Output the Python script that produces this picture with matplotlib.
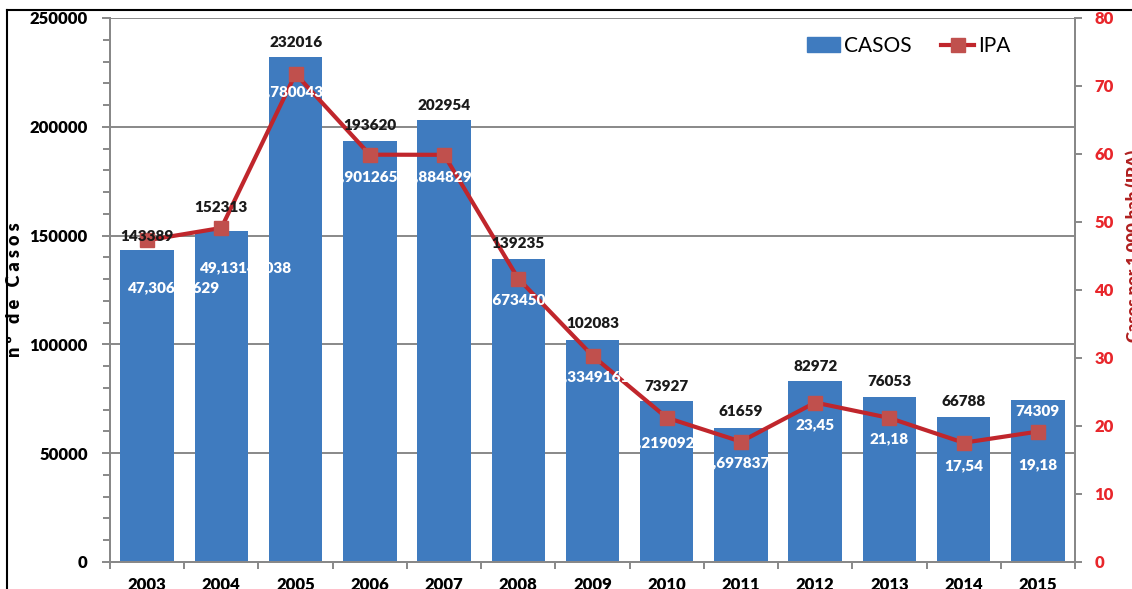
import matplotlib
matplotlib.use("Agg")
import matplotlib.pyplot as plt
import numpy as np
from matplotlib.lines import Line2D
from matplotlib.patches import Patch

plt.rcParams['font.family'] = ['Lato', 'DejaVu Sans']

# datos
anos = ['2003', '2004', '2005', '2006', '2007', '2008', '2009',
        '2010', '2011', '2012', '2013', '2014', '2015']
casos = [143389, 152313, 232016, 193620, 202954, 139235, 102083,
         73927, 61659, 82972, 76053, 66788, 74309]
ipa = [47.31, 49.13, 71.78, 59.90, 59.88, 41.67, 30.33,
       21.22, 17.70, 23.45, 21.18, 17.54, 19.18]
ipa_txt = ['47,30662629', '49,13140038', '71,78004328', '59,90126512',
           '59,88482916', '41,67345012', '30,33491617', '21,21909234',
           '17,69783715', '23,45', '21,18', '17,54', '19,18']

# desplazamientos de etiquetas (px)
casos_dy = [13, 23, 15, 15, 15, 16, 16, 15, 16, 15, 15, 15, -11]
ipa_dx = [27, 25, 0, 0, 0, 0, 0, 0, 0, 0, 0, 0, 0]
ipa_dy = [47, 40, 18, 22, 22, 21, 21, 25, 21, 22, 21, 23, 33]

azul = '#3F7BBF'
rojo = '#C0262C'
gris = '#888888'
px = 0.72  # px -> pt a dpi 100

fig = plt.figure(figsize=(11.32, 5.89), dpi=100)
ax = fig.add_axes([110/1132, 27/589, 965/1132, 544/589])
x = np.arange(len(anos))

ax.bar(x, casos, width=0.72, color=azul, zorder=2)
ax.set_xlim(-0.5, len(anos) - 0.5)
ax.set_ylim(0, 250000)
ax.set_yticks(np.arange(0, 250001, 50000))
ax.set_yticks(np.arange(0, 250001, 10000), minor=True)
ax.yaxis.grid(True, color=gris, lw=1.4, zorder=0)
ax.set_xticks(x)
ax.set_xticklabels(anos, fontsize=12, fontweight='heavy')
ax.set_xticks(np.arange(-0.5, len(anos), 1), minor=True)
ax.tick_params(axis='x', which='major', length=0, pad=11)
ax.tick_params(axis='x', which='minor', length=5, color=gris, width=1.4)
ax.tick_params(axis='y', which='major', length=6, color=gris, width=1.4,
               labelsize=12, pad=10)
ax.tick_params(axis='y', which='minor', length=5, color=gris, width=1.4)
for t in ax.get_yticklabels():
    t.set_fontweight('heavy')
for s in ['left', 'bottom', 'right']:
    ax.spines[s].set_color(gris)
    ax.spines[s].set_linewidth(1.4)
ax.spines['top'].set_visible(False)

ax2 = ax.twinx()
ax2.plot(x, ipa, color=rojo, lw=3, marker='s', markersize=10,
         markerfacecolor='#C0504D', markeredgecolor='#C0504D', zorder=3)
ax2.set_ylim(0, 80)
ax2.set_yticks(np.arange(0, 81, 10))
ax2.tick_params(axis='y', length=5, color=gris, width=1.4, labelsize=12,
                labelcolor='#E8262B', pad=9)
for t in ax2.get_yticklabels():
    t.set_fontweight('heavy')
for s in ['left', 'bottom', 'right']:
    ax2.spines[s].set_color(gris)
    ax2.spines[s].set_linewidth(1.4)
ax2.spines['top'].set_visible(False)

# etiquetas de casos
for i, v in enumerate(casos):
    col = 'white' if casos_dy[i] < 0 else '#1A1A1A'
    ax2.annotate(str(v), (x[i], v), xycoords=ax.transData,
                 xytext=(0, casos_dy[i] * px), textcoords='offset points',
                 ha='center', va='center', fontsize=11, fontweight='heavy',
                 color=col, zorder=5)

# etiquetas de IPA
for i, v in enumerate(ipa):
    ax2.annotate(ipa_txt[i], (x[i], v),
                 xytext=(ipa_dx[i] * px, -ipa_dy[i] * px),
                 textcoords='offset points', ha='center', va='center',
                 fontsize=11, fontweight='heavy', color='white', zorder=5)

fig.text(15/1132, 1 - 290/589, 'n º   d e   C a s o s', rotation=90,
         ha='center', va='center', fontsize=13, fontweight='heavy')
fig.text(1134/1132, 1 - 246/589, 'Casos por 1.000 hab (IPA)', rotation=90,
         ha='center', va='center', fontsize=12, fontweight='heavy',
         color='#B02020')

handles = [Patch(color=azul),
           Line2D([], [], color=rojo, lw=3, marker='s', markersize=10,
                  markerfacecolor='#C0504D', markeredgecolor='#C0504D')]
fig.legend(handles, ['CASOS', 'IPA'], loc='center left',
           bbox_to_anchor=(788/1132, 1 - 46/589), ncol=2, frameon=False,
           fontsize=15, handlelength=1.6, handletextpad=0.2,
           columnspacing=1.4)

# marco del recorte
fig.add_artist(Line2D([7/1132, 1], [1 - 10/589, 1 - 10/589],
                      transform=fig.transFigure, color='black', lw=1.5))
fig.add_artist(Line2D([7/1132, 7/1132], [0, 1 - 10/589],
                      transform=fig.transFigure, color='black', lw=1.5))

fig.savefig('out.png', dpi=100)
